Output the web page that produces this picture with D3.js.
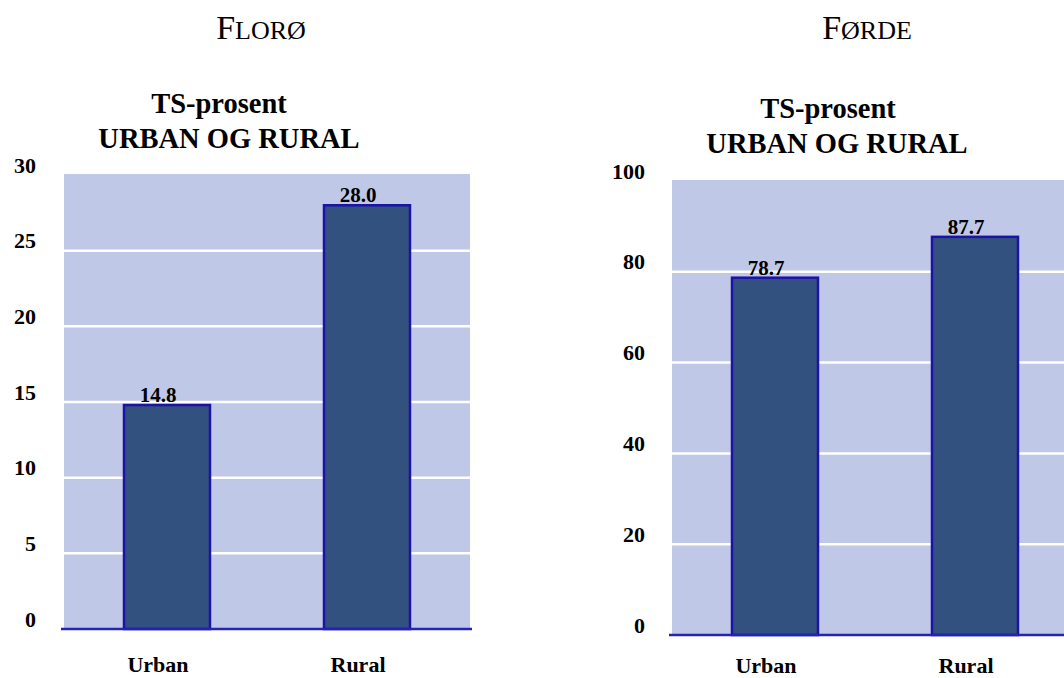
<!DOCTYPE html>
<html>
<head>
<meta charset="utf-8">
<script src="https://cdn.jsdelivr.net/npm/d3@7"></script>
<style>
  html, body { margin: 0; padding: 0; background: #ffffff; }
  svg { display: block; }
  text { font-family: "Liberation Serif", "Times New Roman", serif; fill: #000; }
</style>
</head>
<body>
<svg id="chart" width="1064" height="678"></svg>
<script>
// ---- data ----
const categories = ["Urban", "Rural"];
const floroValues = [14.8, 28.0];
const fordeValues = [78.7, 87.7];
const floroTicks = [0, 5, 10, 15, 20, 25, 30];
const fordeTicks = [0, 20, 40, 60, 80, 100];
const panelNames = [["F", "LORØ"], ["F", "ØRDE"]];
const titleLine1 = "TS-prosent";
const titleLine2 = "URBAN OG RURAL";

const svg = d3.select("#chart");

const BG = "#bfc8e6";
const BAR = "#33517f";
const BAR_STROKE = "#1c12a8";
const AXIS = "#2424b4";

function panel(cfg) {
  const g = svg.append("g");
  const x = d3.scaleBand().domain(categories)
    .range([cfg.left, cfg.left + 406]).paddingInner(0.57).paddingOuter(0.3);
  const y = d3.scaleLinear().domain([0, cfg.max]).range([cfg.base, cfg.top]);

  // header (small caps style)
  const h = g.append("text").attr("x", cfg.nameX).attr("y", 39)
    .attr("text-anchor", "middle");
  h.append("tspan").attr("font-size", 34).text(cfg.name[0]);
  h.append("tspan").attr("font-size", 26).text(cfg.name[1]);

  // chart titles
  g.append("text").attr("x", cfg.t1X).attr("y", cfg.t1Y)
    .attr("text-anchor", "middle").attr("font-weight", "bold")
    .attr("font-size", 28.5).text(titleLine1);
  g.append("text").attr("x", cfg.t2X).attr("y", cfg.t1Y + 35)
    .attr("text-anchor", "middle").attr("font-weight", "bold")
    .attr("font-size", 28.5).text(titleLine2);

  // plot background
  g.append("rect")
    .attr("x", cfg.left).attr("y", y(cfg.max) - 1)
    .attr("width", 406).attr("height", y(0) - y(cfg.max) + 1)
    .attr("fill", BG);

  // gridlines
  g.selectAll("line.grid").data(cfg.ticks.filter(t => t > 0 && t < cfg.max))
    .join("line").attr("class", "grid")
    .attr("x1", cfg.left).attr("x2", cfg.left + 406)
    .attr("y1", d => y(d)).attr("y2", d => y(d))
    .attr("stroke", "#ffffff").attr("stroke-width", 2.5);

  // y axis labels
  const ya = g.append("g").attr("transform", `translate(${cfg.labelX},0)`)
    .call(d3.axisLeft(y).tickValues(cfg.ticks).tickSize(0).tickPadding(0)
      .tickFormat(d3.format("d")));
  ya.select(".domain").remove();
  ya.selectAll("text")
    .attr("dy", "-3px")
    .attr("font-family", "\"Liberation Serif\", \"Times New Roman\", serif")
    .attr("font-weight", "bold").attr("font-size", 22).attr("fill", "#000");

  // bars
  g.selectAll("rect.bar").data(cfg.values)
    .join("rect").attr("class", "bar")
    .attr("x", (d, i) => x(categories[i]))
    .attr("y", d => y(d))
    .attr("width", x.bandwidth())
    .attr("height", d => y(0) - y(d))
    .attr("fill", BAR).attr("stroke", BAR_STROKE).attr("stroke-width", 2.5);

  // baseline axis
  g.append("line")
    .attr("x1", cfg.left - 3).attr("x2", cfg.left + 408)
    .attr("y1", y(0)).attr("y2", y(0))
    .attr("stroke", AXIS).attr("stroke-width", 2.5);

  // value labels
  g.selectAll("text.val").data(cfg.values)
    .join("text").attr("class", "val")
    .attr("x", (d, i) => x(categories[i]) + x.bandwidth() / 2 - 9)
    .attr("y", d => y(d) - 3)
    .attr("text-anchor", "middle").attr("font-weight", "bold")
    .attr("font-size", 21).text(d => d.toFixed(1));

  // category labels
  g.selectAll("text.cat").data(categories)
    .join("text").attr("class", "cat")
    .attr("x", d => x(d) + x.bandwidth() / 2 - 9)
    .attr("y", y(0) + cfg.catDy)
    .attr("text-anchor", "middle").attr("font-weight", "bold")
    .attr("font-size", 22).text(d => d);
}

panel({
  name: panelNames[0], nameX: 261,
  t1X: 219, t2X: 229, t1Y: 113,
  left: 64, top: 175, base: 629, max: 30,
  ticks: floroTicks, values: floroValues,
  labelX: 36, catDy: 43
});

panel({
  name: panelNames[1], nameX: 867,
  t1X: 828, t2X: 837, t1Y: 118,
  left: 672, top: 181, base: 635, max: 100,
  ticks: fordeTicks, values: fordeValues,
  labelX: 645, catDy: 38
});
</script>
</body>
</html>
